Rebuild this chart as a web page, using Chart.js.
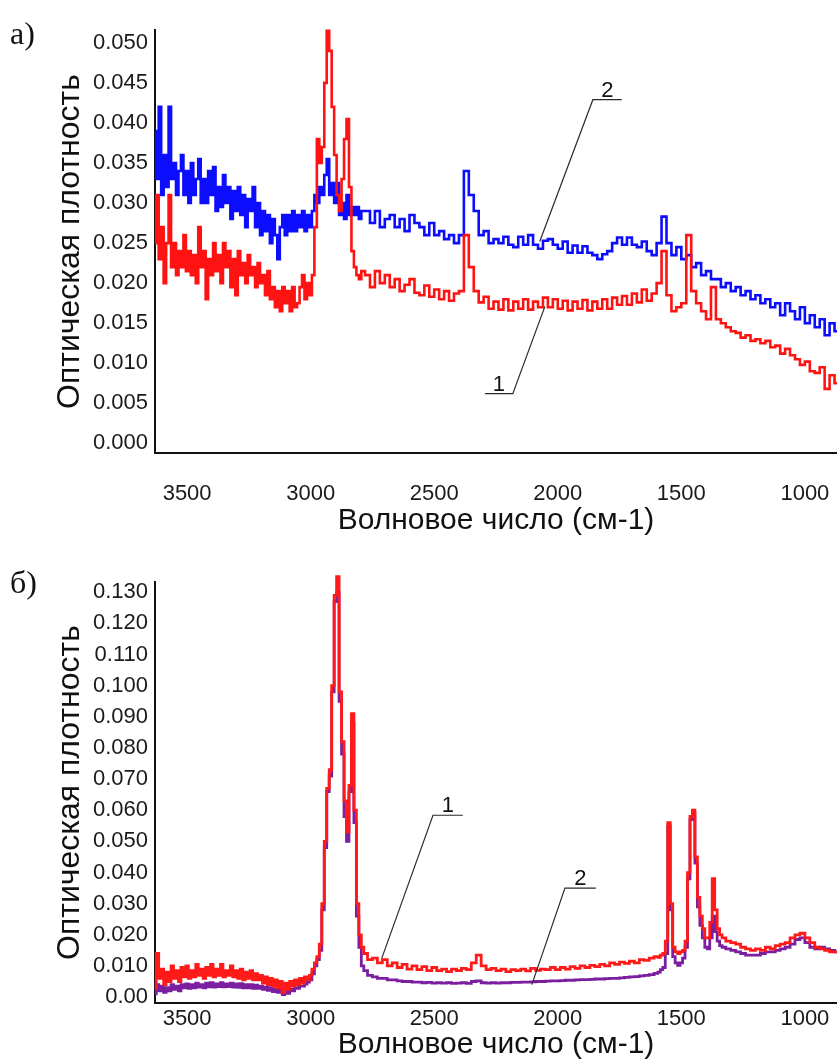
<!DOCTYPE html>
<html lang="ru">
<head>
<meta charset="utf-8">
<title>ИК-спектры</title>
<script src="https://cdn.jsdelivr.net/npm/chart.js@4.4.1/dist/chart.umd.min.js"></script>
<style>
    body { margin: 0; background: #fff; }
    #wrap { position: relative; width: 837px; height: 1064px; overflow: hidden; }
    .tag { position: absolute; left: 10px; font: 32px 'Liberation Serif', 'Times New Roman', serif; line-height: 1; color: #111; }
    .panel { position: absolute; left: 0; }
</style>
</head>
<body>
<div id="wrap">
    <div class="panel" style="top:0"><canvas id="chartA" width="837" height="540"></canvas></div>
    <div class="panel" style="top:560px"><canvas id="chartB" width="837" height="504"></canvas></div>
    <div class="tag" style="top:17px">а)</div>
    <div class="tag" style="top:566px">б)</div>
</div>
<script>
// ---- panel a: wavenumbers (cm-1) and absorbance ----
// step 10 over the noisy high-wavenumber part, step 20 after 2790
const waveTop = [
    3630, 3620, 3610, 3600, 3590, 3580, 3570, 3560, 3550, 3540,
    3530, 3520, 3510, 3500, 3490, 3480, 3470, 3460, 3450, 3440,
    3430, 3420, 3410, 3400, 3390, 3380, 3370, 3360, 3350, 3340,
    3330, 3320, 3310, 3300, 3290, 3280, 3270, 3260, 3250, 3240,
    3230, 3220, 3210, 3200, 3190, 3180, 3170, 3160, 3150, 3140,
    3130, 3120, 3110, 3100, 3090, 3080, 3070, 3060, 3050, 3040,
    3030, 3020, 3010, 3000,
    2990, 2980, 2970, 2960, 2950, 2940, 2930, 2920, 2910, 2900,
    2890, 2880, 2870, 2860, 2850, 2840, 2830, 2820, 2810, 2800,
    2790,
    2770, 2750, 2730, 2710, 2690, 2670, 2650,
    2630, 2610, 2590, 2570, 2550, 2530, 2510, 2490, 2470, 2450,
    2430, 2410, 2390, 2370, 2350, 2330, 2310, 2290, 2270, 2250,
    2230, 2210, 2190, 2170, 2150, 2130, 2110, 2090, 2070, 2050,
    2030, 2010, 1990, 1970, 1950, 1930, 1910, 1890, 1870, 1850,
    1830, 1810, 1790, 1770, 1750, 1730, 1710, 1690, 1670, 1650,
    1630, 1610, 1590, 1570, 1550, 1530, 1510, 1490, 1470, 1450,
    1430, 1410, 1390, 1370, 1350, 1330, 1310, 1290, 1270, 1250,
    1230, 1210, 1190, 1170, 1150, 1130, 1110, 1090, 1070, 1050,
    1030, 1010, 990, 970, 950, 930, 910, 890, 870
];
const redTop = [
    0.025, 0.031, 0.023, 0.027, 0.020, 0.025, 0.031, 0.022, 0.025, 0.021,
    0.024, 0.022, 0.026, 0.0215, 0.024, 0.021, 0.0235, 0.020, 0.027, 0.022,
    0.024, 0.018, 0.023, 0.021, 0.025, 0.0215, 0.0235, 0.020, 0.025, 0.022,
    0.024, 0.0195, 0.023, 0.0185, 0.024, 0.021, 0.0225, 0.020, 0.0235, 0.021,
    0.022, 0.0195, 0.0225, 0.020, 0.021, 0.0185, 0.0215, 0.018, 0.0195, 0.017,
    0.019, 0.0165, 0.0195, 0.0175, 0.019, 0.0165, 0.0195, 0.017, 0.0175, 0.0195,
    0.021, 0.018, 0.020, 0.0185,
    0.021, 0.027, 0.038, 0.035, 0.037, 0.045, 0.0515, 0.049, 0.042, 0.036,
    0.031, 0.029, 0.033, 0.038, 0.0405, 0.032, 0.024, 0.022, 0.021, 0.0205,
    0.0215,
    0.021, 0.0195, 0.0215, 0.020, 0.021, 0.0195, 0.0205,
    0.019, 0.0198, 0.0205, 0.0188, 0.0185, 0.0197, 0.0183, 0.0192, 0.018, 0.019,
    0.0178, 0.0187, 0.019, 0.026, 0.022, 0.019, 0.0176, 0.0183, 0.0168, 0.0177,
    0.0167, 0.018, 0.0166, 0.0177, 0.0168, 0.018, 0.0167, 0.0177, 0.017, 0.0182,
    0.017, 0.018, 0.0168, 0.0178, 0.0166, 0.0177, 0.0168, 0.0179, 0.0166, 0.0177,
    0.0168, 0.018, 0.0168, 0.0182, 0.0173, 0.0184, 0.0173, 0.0187, 0.0176, 0.0192,
    0.0178, 0.0187, 0.020, 0.024, 0.0185, 0.0165, 0.017, 0.0175, 0.026, 0.019,
    0.0175, 0.0165, 0.0155, 0.0195, 0.0155, 0.015, 0.0145, 0.014, 0.0138, 0.0132,
    0.0135, 0.0128, 0.013, 0.0125, 0.0128, 0.012, 0.0122, 0.0112, 0.0118, 0.011,
    0.0105, 0.0098, 0.0102, 0.009, 0.0088, 0.0095, 0.0068, 0.0085, 0.0075
];
const blueTop = [
    0.039, 0.033, 0.042, 0.031, 0.036, 0.032, 0.042, 0.033, 0.035, 0.031,
    0.034, 0.036, 0.031, 0.034, 0.030, 0.035, 0.031, 0.033, 0.0355, 0.030,
    0.033, 0.030, 0.034, 0.031, 0.0345, 0.029, 0.032, 0.0295, 0.0335, 0.030,
    0.032, 0.028, 0.0315, 0.029, 0.032, 0.0285, 0.031, 0.027, 0.0305, 0.029,
    0.032, 0.027, 0.030, 0.026, 0.029, 0.0265, 0.0285, 0.025, 0.028, 0.026,
    0.023, 0.027, 0.0285, 0.026, 0.0285, 0.0265, 0.029, 0.0265, 0.0285, 0.027,
    0.029, 0.0265, 0.0285, 0.027,
    0.029, 0.031, 0.030, 0.032, 0.031, 0.0335, 0.0355, 0.031, 0.0325, 0.030,
    0.0325, 0.0285, 0.030, 0.028, 0.031, 0.0285, 0.0295, 0.0285, 0.0295, 0.028,
    0.029,
    0.029, 0.0275, 0.029, 0.027, 0.028, 0.0285, 0.027,
    0.028, 0.0265, 0.0285, 0.0275, 0.027, 0.026, 0.0275, 0.026, 0.0265, 0.0255,
    0.026, 0.025, 0.026, 0.034, 0.031, 0.029, 0.026, 0.0265, 0.025, 0.0255,
    0.025, 0.0258, 0.0248, 0.0245, 0.0258, 0.0248, 0.026, 0.0248, 0.0243, 0.0253,
    0.0255, 0.0248, 0.0243, 0.0252, 0.0238, 0.0247, 0.0238, 0.0246, 0.0238, 0.0235,
    0.023, 0.0236, 0.024, 0.025, 0.0257, 0.0248, 0.0257, 0.0248, 0.0245, 0.0252,
    0.024, 0.0235, 0.025, 0.0283, 0.025, 0.0235, 0.0245, 0.023, 0.0235, 0.022,
    0.0225, 0.021, 0.0215, 0.0205, 0.0205, 0.0195, 0.020, 0.019, 0.0195, 0.0185,
    0.019, 0.018, 0.0185, 0.0175, 0.018, 0.017, 0.0175, 0.016, 0.0175, 0.0165,
    0.0155, 0.017, 0.015, 0.016, 0.0145, 0.0155, 0.0135, 0.015, 0.014
];

// ---- panel b: finer sampling over noisy part and strong bands ----
const waveBottom = [
    3630, 3620, 3610, 3600, 3590, 3580, 3570, 3560, 3550, 3540,
    3530, 3520, 3510, 3500, 3490, 3480, 3470, 3460, 3450, 3440,
    3430, 3420, 3410, 3400, 3390, 3380, 3370, 3360, 3350, 3340,
    3330, 3320, 3310, 3300, 3290, 3280, 3270, 3260, 3250, 3240,
    3230, 3220, 3210, 3200, 3190, 3180, 3170, 3160, 3150, 3140,
    3130, 3120, 3110, 3100, 3090, 3080, 3070, 3060, 3050, 3040,
    3030, 3020, 3010,
    3000, 2990, 2980, 2970, 2960, 2950, 2940, 2930, 2920, 2910,
    2900, 2890, 2880, 2870, 2860, 2850, 2840, 2830, 2820, 2810,
    2800, 2790, 2780,
    2760, 2740, 2720, 2700, 2680, 2660, 2640, 2620, 2600, 2580,
    2560, 2540, 2520, 2500, 2480, 2460, 2440, 2420, 2400, 2380,
    2360, 2340, 2320, 2300, 2280, 2260, 2240, 2220, 2200, 2180,
    2160, 2140, 2120, 2100, 2080, 2060, 2040, 2020, 2000, 1980,
    1960, 1940, 1920, 1900, 1880, 1860, 1840, 1820, 1800, 1780,
    1760, 1740, 1720, 1700, 1680, 1660, 1640, 1620,
    1600, 1590, 1580, 1570, 1560, 1550, 1540, 1530, 1520, 1510,
    1500, 1490, 1480, 1470, 1460, 1450, 1440, 1430, 1420, 1410,
    1400, 1390, 1380, 1370, 1360, 1350, 1340,
    1330, 1310, 1290, 1270, 1250, 1230, 1210, 1190, 1170, 1150,
    1130, 1110, 1090, 1070, 1050, 1030, 1010, 990, 970, 950,
    930, 910, 890, 870
];
const redBottom = [
    0.003, 0.014, 0.006, 0.009, 0.004, 0.008, 0.005, 0.010, 0.006, 0.0085,
    0.005, 0.0095, 0.0065, 0.010, 0.006, 0.0085, 0.0065, 0.0105, 0.007, 0.009,
    0.006, 0.0095, 0.007, 0.0105, 0.0065, 0.009, 0.007, 0.0105, 0.0065, 0.0085,
    0.007, 0.010, 0.0065, 0.0085, 0.006, 0.009, 0.0055, 0.008, 0.006, 0.0085,
    0.0055, 0.0075, 0.0055, 0.007, 0.0045, 0.0065, 0.004, 0.006, 0.0035, 0.0055,
    0.003, 0.005, 0.0015, 0.0045, 0.0025, 0.005, 0.0035, 0.0055, 0.004, 0.006,
    0.0045, 0.0065, 0.0055,
    0.007, 0.009, 0.011, 0.013, 0.017, 0.030, 0.050, 0.067, 0.073, 0.100,
    0.129, 0.135, 0.098, 0.082, 0.063, 0.053, 0.068, 0.091, 0.060, 0.030,
    0.020, 0.016, 0.014,
    0.012, 0.0125, 0.011, 0.012, 0.010, 0.011, 0.0095, 0.0105, 0.009, 0.010,
    0.0088, 0.0098, 0.0085, 0.0095, 0.0085, 0.009, 0.0082, 0.009, 0.0085, 0.0092,
    0.0088, 0.011, 0.0135, 0.010, 0.0088, 0.0092, 0.0085, 0.009, 0.0082, 0.0088,
    0.0085, 0.009, 0.0084, 0.0092, 0.0086, 0.009, 0.0088, 0.0095, 0.0088, 0.0095,
    0.009, 0.0098, 0.0092, 0.010, 0.0095, 0.0102, 0.0098, 0.0105, 0.010, 0.011,
    0.0105, 0.0112, 0.0108, 0.0115, 0.011, 0.012, 0.0118, 0.0125,
    0.013, 0.0128, 0.0135, 0.014, 0.018, 0.056, 0.030, 0.016, 0.0145, 0.014,
    0.0145, 0.015, 0.018, 0.040, 0.058, 0.060, 0.045, 0.032, 0.026, 0.022,
    0.019, 0.019, 0.024, 0.038, 0.028, 0.022, 0.020,
    0.019, 0.018, 0.0175, 0.017, 0.016, 0.0155, 0.015, 0.0155, 0.015, 0.016,
    0.0155, 0.0165, 0.017, 0.0175, 0.019, 0.020, 0.0205, 0.019, 0.0175, 0.016,
    0.0155, 0.015, 0.0145, 0.0145
];
const purpleBottom = [
    0.001, 0.004, 0.002, 0.0035, 0.0015, 0.003, 0.002, 0.004, 0.0025, 0.0035,
    0.002, 0.004, 0.003, 0.0042, 0.0028, 0.004, 0.003, 0.0045, 0.0032, 0.004,
    0.003, 0.0045, 0.0033, 0.0046, 0.0032, 0.0042, 0.0034, 0.0046, 0.0033, 0.0042,
    0.0034, 0.0045, 0.0032, 0.0042, 0.0031, 0.0043, 0.003, 0.004, 0.003, 0.004,
    0.0028, 0.0038, 0.0028, 0.0035, 0.0025, 0.0032, 0.0022, 0.003, 0.0018, 0.0026,
    0.0015, 0.0022, 0.0008, 0.002, 0.0012, 0.0025, 0.002, 0.003, 0.0028, 0.0035,
    0.0035, 0.0042, 0.0048,
    0.0055, 0.0075, 0.010, 0.012, 0.015, 0.028, 0.048, 0.066, 0.071, 0.098,
    0.127, 0.130, 0.095, 0.078, 0.058, 0.050, 0.066, 0.088, 0.056, 0.026,
    0.016, 0.010, 0.0085,
    0.007, 0.0065, 0.006, 0.006, 0.0055, 0.0055, 0.0052, 0.005, 0.005, 0.0048,
    0.0048, 0.0046, 0.0047, 0.0045, 0.0046, 0.0045, 0.0046, 0.0044, 0.0045, 0.0046,
    0.0044, 0.005, 0.0052, 0.0046, 0.0045, 0.0046, 0.0045, 0.0046, 0.0046, 0.0047,
    0.0047, 0.0048, 0.0048, 0.0049, 0.005, 0.005, 0.0051, 0.0052, 0.0052, 0.0053,
    0.0054, 0.0054, 0.0055, 0.0056, 0.0056, 0.0057, 0.0058, 0.0058, 0.0059, 0.006,
    0.006, 0.0062, 0.0063, 0.0065, 0.0066, 0.0068, 0.007, 0.0072,
    0.0076, 0.008, 0.0088, 0.0095, 0.014, 0.055, 0.028, 0.013, 0.011, 0.0102,
    0.011, 0.0125, 0.016, 0.038, 0.057, 0.059, 0.043, 0.029, 0.023, 0.019,
    0.016, 0.0155, 0.019, 0.026, 0.021, 0.018, 0.0165,
    0.016, 0.0155, 0.015, 0.0145, 0.014, 0.0135, 0.0135, 0.0135, 0.014, 0.0145,
    0.0145, 0.015, 0.0155, 0.016, 0.017, 0.0185, 0.019, 0.0175, 0.016, 0.0155,
    0.016, 0.0155, 0.015, 0.0145
];

// ---- ticks ----
const xTicks = [3500, 3000, 2500, 2000, 1500, 1000];
const yTicksTop = [0, 0.005, 0.010, 0.015, 0.020, 0.025, 0.030, 0.035, 0.040, 0.045, 0.050];
const yLabelsTop = ['0.000', '0.005', '0.010', '0.015', '0.020', '0.025', '0.030', '0.035', '0.040', '0.045', '0.050'];
const yTicksBottom = [0, 0.01, 0.02, 0.03, 0.04, 0.05, 0.06, 0.07, 0.08, 0.09, 0.10, 0.11, 0.12, 0.13];
const yLabelsBottom = ['0.00', '0.010', '0.020', '0.030', '0.040', '0.050', '0.060', '0.070', '0.080', '0.090', '0.100', '0.110', '0.120', '0.130'];

// leader lines: curve point -> elbow -> end of underline, number sits over the underline
const notesTop = [
    { text: '2', tip: [2073, 0.0252], elbow: [1858, 0.0429], end: [1741, 0.0429] },
    { text: '1', tip: [2052, 0.0171], elbow: [2182, 0.0062], end: [2295, 0.0062] }
];
const notesBottom = [
    { text: '1', tip: [2712, 0.0125], elbow: [2505, 0.0584], end: [2384, 0.0584] },
    { text: '2', tip: [2105, 0.0040], elbow: [1971, 0.0350], end: [1846, 0.0350] }
];

const SANS = 'Liberation Sans';
const TITLE_X = 'Волновое число (см-1)';
const TITLE_Y = 'Оптическая плотность';

const leaderPlugin = {
    id: 'leaders',
    afterDatasetsDraw(chart, args, opts) {
        const { ctx, scales: { x, y } } = chart;
        ctx.save();
        ctx.strokeStyle = '#2a2a2a';
        ctx.lineWidth = 1.2;
        ctx.fillStyle = '#111';
        ctx.font = `22px ${SANS}`;
        ctx.textAlign = 'center';
        ctx.textBaseline = 'alphabetic';
        (opts.notes || []).forEach(n => {
            const px = p => [x.getPixelForValue(p[0]), y.getPixelForValue(p[1])];
            const a = px(n.tip), b = px(n.elbow), c = px(n.end);
            ctx.beginPath();
            ctx.moveTo(a[0], a[1]);
            ctx.lineTo(b[0], b[1]);
            ctx.lineTo(c[0], c[1]);
            ctx.stroke();
            ctx.fillText(n.text, (b[0] + c[0]) / 2, b[1] - 3);
        });
        ctx.restore();
    }
};

function series(wave, vals, color, width) {
    return {
        data: wave.map((w, i) => ({ x: w, y: vals[i] })),
        borderColor: color,
        backgroundColor: color,
        borderWidth: width,
        pointRadius: 0,
        stepped: 'middle',
        clip: false
    };
}

function makeChart(canvasId, datasets, yMin, yMax, yTicks, yLabels, padTop, xHeight, xPad, notes) {
    return new Chart(document.getElementById(canvasId), {
        type: 'line',
        data: { datasets: datasets },
        options: {
            responsive: false,
            animation: false,
            events: [],
            layout: { padding: { left: 47, top: padTop, right: 0, bottom: 0 } },
            plugins: {
                legend: { display: false },
                tooltip: { enabled: false },
                leaders: { notes: notes }
            },
            scales: {
                x: {
                    type: 'linear',
                    reverse: true,
                    min: 870,
                    max: 3630,
                    afterBuildTicks: s => { s.ticks = xTicks.map(v => ({ value: v })); },
                    // plot runs to the right edge: drop the label overhang padding
                    afterFit: s => { s.height = xHeight; s.paddingLeft = 0; s.paddingRight = 0; },
                    grid: { display: false, drawTicks: false },
                    border: { display: true, color: '#111', width: 2 },
                    ticks: {
                        font: { family: SANS, size: 22 }, color: '#1a1a1a', padding: xPad,
                        maxRotation: 0, autoSkip: false, callback: v => String(v)
                    },
                    title: { display: true, text: TITLE_X, font: { family: SANS, size: 30 }, color: '#111', padding: { top: 0, bottom: 1 } }
                },
                y: {
                    min: yMin,
                    max: yMax,
                    afterBuildTicks: s => { s.ticks = yTicks.map(v => ({ value: v })); },
                    afterFit: s => { s.width = 108; },
                    grid: { display: false, drawTicks: false },
                    border: { display: true, color: '#111', width: 2 },
                    ticks: {
                        font: { family: SANS, size: 22 }, color: '#1a1a1a', padding: 7,
                        callback: v => yLabels[yTicks.indexOf(v)]
                    },
                    title: { display: true, text: TITLE_Y, font: { family: SANS, size: 32 }, color: '#111', padding: { top: 4, bottom: 0 } }
                }
            }
        },
        plugins: [leaderPlugin]
    });
}

makeChart('chartA', [
    series(waveTop, redTop, '#ff1212', 2.6),
    series(waveTop, blueTop, '#0c0cff', 2.6)
], -0.0012, 0.0516, yTicksTop, yLabelsTop, 30, 87, 28, notesTop);

makeChart('chartB', [
    series(waveBottom, redBottom, '#ff1a1a', 2.8),
    series(waveBottom, purpleBottom, '#7b1fa0', 2.8)
], -0.0019, 0.1333, yTicksBottom, yLabelsBottom, 22, 61, 3, notesBottom);
</script>
</body>
</html>
